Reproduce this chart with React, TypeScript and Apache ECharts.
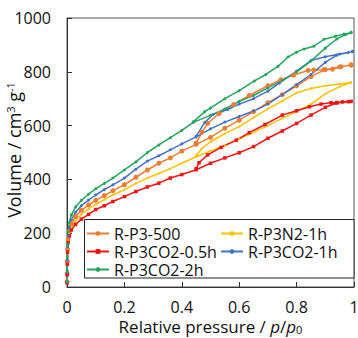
import React, { useEffect, useRef } from 'react';
import * as echarts from 'echarts';

type Pt = [number, number];

const seriesNames = ['R-P3-500', 'R-P3N2-1h', 'R-P3CO2-0.5h', 'R-P3CO2-1h', 'R-P3CO2-2h'];
const seriesColors = ['#ED7D31', '#FFC000', '#F01414', '#4472C4', '#22A65E'];
const yTicks = [0, 200, 400, 600, 800, 1000];
const xTicks = [0, 0.2, 0.4, 0.6, 0.8, 1];
const yTitle = 'Volume / cm{sup|3} g{sup|-1}';
const xTitle = 'Relative pressure / {i|p}/{i|p}{sub|0}';

// R-P3-500
const p3_500_ads: Pt[] = [[0.0003,20],[0.0006,50],[0.001,95],[0.002,140],[0.004,178],[0.008,208],[0.015,235],[0.03,262],[0.05,285],[0.075,305],[0.1,322],[0.13,340],[0.16,358],[0.2,380],[0.24,408],[0.28,435],[0.32,460],[0.36,480],[0.4,505],[0.45,530],[0.5,556],[0.55,590],[0.6,620],[0.65,652],[0.7,685],[0.75,715],[0.8,748],[0.85,782],[0.9,808],[0.95,818],[0.99,825]];
const p3_500_des: Pt[] = [[0.99,826],[0.955,819],[0.925,810],[0.895,808],[0.86,807],[0.84,805],[0.79,788],[0.745,770],[0.7,748],[0.635,712],[0.58,678],[0.53,645],[0.49,608],[0.47,575],[0.45,535]];
// R-P3N2-1h
const n2_1h_ads: Pt[] = [[0.0003,20],[0.0006,50],[0.001,90],[0.002,135],[0.004,170],[0.008,198],[0.015,222],[0.03,248],[0.05,270],[0.075,290],[0.1,307],[0.13,325],[0.16,342],[0.2,362],[0.24,385],[0.28,405],[0.32,422],[0.36,440],[0.4,460],[0.45,484],[0.5,505],[0.55,527],[0.6,550],[0.65,575],[0.7,600],[0.75,627],[0.8,652],[0.85,680],[0.9,718],[0.95,745],[0.99,760]];
const n2_1h_des: Pt[] = [[0.99,762],[0.95,755],[0.9,748],[0.85,738],[0.8,722],[0.75,692],[0.7,662],[0.65,630],[0.6,596],[0.55,570],[0.5,540],[0.47,515],[0.45,488]];
// R-P3CO2-0.5h
const co2_05h_ads: Pt[] = [[0.0003,15],[0.0006,45],[0.001,85],[0.002,130],[0.004,165],[0.008,190],[0.015,212],[0.03,233],[0.05,252],[0.075,270],[0.1,288],[0.13,302],[0.16,318],[0.2,336],[0.24,355],[0.28,372],[0.32,386],[0.36,405],[0.4,418],[0.45,436],[0.5,460],[0.55,480],[0.6,499],[0.65,522],[0.7,553],[0.75,580],[0.8,608],[0.85,639],[0.9,668],[0.94,684],[0.98,689]];
const co2_05h_des: Pt[] = [[0.99,690],[0.96,688],[0.94,686],[0.92,685],[0.885,680],[0.845,670],[0.8,655],[0.75,639],[0.69,604],[0.635,574],[0.59,546],[0.537,519],[0.49,491],[0.46,462],[0.45,440]];
// R-P3CO2-1h
const co2_1h_ads: Pt[] = [[0.0003,20],[0.0006,55],[0.001,100],[0.002,150],[0.004,190],[0.008,222],[0.015,250],[0.03,278],[0.05,302],[0.075,323],[0.1,342],[0.13,362],[0.16,380],[0.2,405],[0.24,438],[0.28,468],[0.32,488],[0.36,510],[0.4,532],[0.45,558],[0.5,588],[0.55,613],[0.6,634],[0.65,654],[0.7,680],[0.75,715],[0.8,752],[0.85,790],[0.9,835],[0.94,862],[0.98,872],[0.995,875]];
const co2_1h_des: Pt[] = [[0.995,876],[0.95,866],[0.9,856],[0.85,842],[0.8,803],[0.74,758],[0.7,728],[0.65,700],[0.6,680],[0.56,660],[0.51,642],[0.48,612],[0.45,560]];
// R-P3CO2-2h
const co2_2h_ads: Pt[] = [[0.0003,20],[0.0006,60],[0.001,110],[0.002,160],[0.004,205],[0.008,240],[0.015,268],[0.03,298],[0.05,322],[0.075,345],[0.1,365],[0.13,385],[0.16,405],[0.2,435],[0.24,465],[0.28,500],[0.32,528],[0.36,555],[0.4,582],[0.44,612],[0.5,638],[0.55,662],[0.6,690],[0.65,712],[0.7,740],[0.75,768],[0.8,800],[0.85,840],[0.9,888],[0.94,922],[0.97,938],[0.99,945]];
const co2_2h_des: Pt[] = [[0.99,947],[0.965,940],[0.935,932],[0.896,921],[0.86,895],[0.826,885],[0.8,873],[0.77,855],[0.735,820],[0.693,790],[0.653,766],[0.6,730],[0.55,700],[0.5,665],[0.48,652],[0.44,614]];

const branches: Pt[][][] = [
  [p3_500_ads, p3_500_des],
  [n2_1h_ads, n2_1h_des],
  [co2_05h_ads, co2_05h_des],
  [co2_1h_ads, co2_1h_des],
  [co2_2h_ads, co2_2h_des],
];
const symbols = ['circle', 'circle', 'rect', 'circle', 'circle'];
const symbolSizes = [5, 2, 3.5, 3, 3];

const FONT = 'Open Sans';

export default function App() {
  const ref = useRef<HTMLDivElement>(null);
  useEffect(() => {
    if (!ref.current) return;
    const chart = echarts.init(ref.current, undefined, { renderer: 'svg' });
    const series = seriesNames.map((name, i) => ({
      name,
      type: 'line',
      data: branches[i][0].concat(branches[i][1]),
      symbol: symbols[i],
      symbolSize: symbolSizes[i],
      showSymbol: true,
      color: seriesColors[i],
      lineStyle: { width: 1.5, color: seriesColors[i] },
      itemStyle: { color: seriesColors[i] },
      z: 2,
    }));
    const legendCommon = {
      orient: 'vertical',
      itemWidth: 22,
      itemHeight: 6,
      itemGap: 1,
      padding: 0,
      z: 10,
      textStyle: { fontFamily: FONT, fontSize: 16, color: '#111', lineHeight: 17 },
    };
    chart.setOption({
      animation: false,
      grid: { left: 67, top: 18, right: 4, bottom: 51, show: true, borderColor: '#555', borderWidth: 1, outerBoundsMode: 'none' },
      xAxis: {
        type: 'value', min: xTicks[0], max: xTicks[xTicks.length - 1], interval: 0.2,
        splitLine: { show: false },
        axisLine: { lineStyle: { color: '#333', width: 1 } },
        axisTick: { inside: true, length: 5, lineStyle: { color: '#333' } },
        axisLabel: { margin: 12, fontFamily: FONT, fontSize: 16, lineHeight: 16, color: '#111', formatter: (v: number) => String(v) },
        name: xTitle,
        nameLocation: 'middle',
        nameGap: 31,
        nameMoveOverlap: false,
        nameTextStyle: {
          fontFamily: FONT, fontSize: 17, lineHeight: 17, color: '#111',
          rich: {
            i: { fontFamily: FONT, fontSize: 17, lineHeight: 17, fontStyle: 'italic', color: '#111' },
            sub: { fontFamily: FONT, fontSize: 11, lineHeight: 17, verticalAlign: 'bottom', color: '#111' },
          },
        },
      },
      yAxis: {
        type: 'value', min: yTicks[0], max: yTicks[yTicks.length - 1], interval: 200,
        splitLine: { show: false },
        axisLine: { show: true, lineStyle: { color: '#333', width: 1 } },
        axisTick: { show: true, inside: true, length: 5, lineStyle: { color: '#333' } },
        axisLabel: { margin: 16, fontFamily: FONT, fontSize: 16, color: '#111', formatter: (v: number) => String(v) },
      },
      legend: [
        { ...legendCommon, data: [seriesNames[0], seriesNames[2], seriesNames[4]], left: 86, top: 225 },
        { ...legendCommon, data: [seriesNames[1], seriesNames[3]], left: 220, top: 225 },
      ],
      graphic: [
        {
          type: 'rect', z: 5,
          shape: { x: 84.5, y: 219.5, width: 269.5, height: 58.5 },
          style: { fill: '#fff', stroke: '#222', lineWidth: 1 },
        },
        {
          type: 'text', z: 5,
          x: 14, y: 150, rotation: Math.PI / 2,
          style: {
            text: yTitle,
            fontFamily: FONT, fontSize: 18, fill: '#111',
            align: 'center', verticalAlign: 'middle',
            rich: {
              sup: { fontFamily: FONT, fontSize: 11, verticalAlign: 'top', fill: '#111' },
            },
          },
        },
      ],
      series,
    });
    return () => chart.dispose();
  }, []);
  return <div ref={ref} style={{ position: 'fixed', left: 0, top: 0, width: 358, height: 338, background: '#fff' }} />;
}
